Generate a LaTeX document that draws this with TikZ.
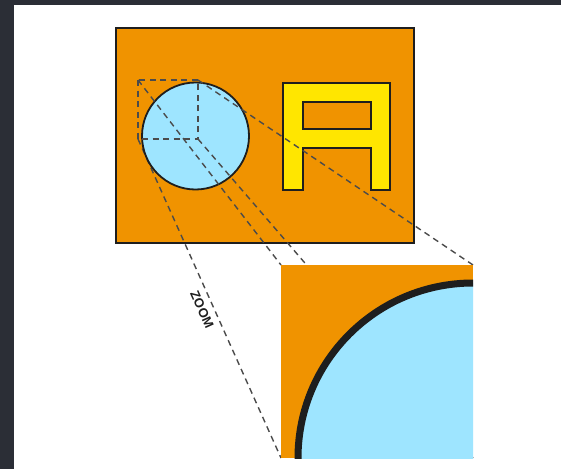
\documentclass[tikz,border=0pt]{standalone}
\usepackage{fontspec}
\setsansfont{Liberation Sans}
\definecolor{frame}{HTML}{2B2E36}
\definecolor{orng}{HTML}{F09300}
\definecolor{sky}{HTML}{9EE5FF}
\definecolor{ylw}{HTML}{FFE600}
\definecolor{ink}{HTML}{1E1E1E}
\tikzset{
  proj/.style={draw=ink!80,line width=1.4pt,dash pattern=on 6pt off 4.5pt},
  outline/.style={draw=ink,line width=1.8pt},
  zoomlabel/.style={font=\sffamily\bfseries\fontsize{13}{15}\selectfont,text=ink,inner sep=6pt}
}
\begin{document}
\begin{tikzpicture}[x=1pt,y=-1pt]
\useasboundingbox (0,0) rectangle (561,469);
\fill[frame] (0,0) rectangle (561,469);
\fill[white] (14,5) rectangle (561,469);
\coordinate (tl) at (138,80);
\coordinate (tr) at (198,80);
\coordinate (bl) at (138,139);
\coordinate (br) at (198,139);
\coordinate (ztl) at (281,265);
\coordinate (ztr) at (473,265);
\coordinate (zbl) at (281,458);
\coordinate (zbr) at (473,458);
\draw[fill=orng,draw=ink,line width=2.4pt] (116,28) rectangle (414,243);
\draw[proj] (bl) -- (zbl) node[zoomlabel,sloped,below,pos=0.52] {ZOOM};
\draw[fill=sky,outline] (195.5,136) circle (53.5);
\draw[fill=ylw,outline,even odd rule] (283,83) -- (390,83) -- (390,190) -- (371,190)
  -- (371,148) -- (303,148) -- (303,190) -- (283,190) -- cycle
  (303,102) rectangle (371,129);
\draw[proj] (tl) rectangle (br);
\draw[proj] (tl) -- (ztl);
\draw[proj] (tr) -- (ztr);
\draw[proj] (br) -- (zbr);
\begin{scope}
\clip (ztl) rectangle (zbr);
\fill[orng] (ztl) rectangle (zbr);
\draw[fill=sky,draw=ink,line width=7pt] (zbr) circle (175);
\end{scope}
\end{tikzpicture}
\end{document}
